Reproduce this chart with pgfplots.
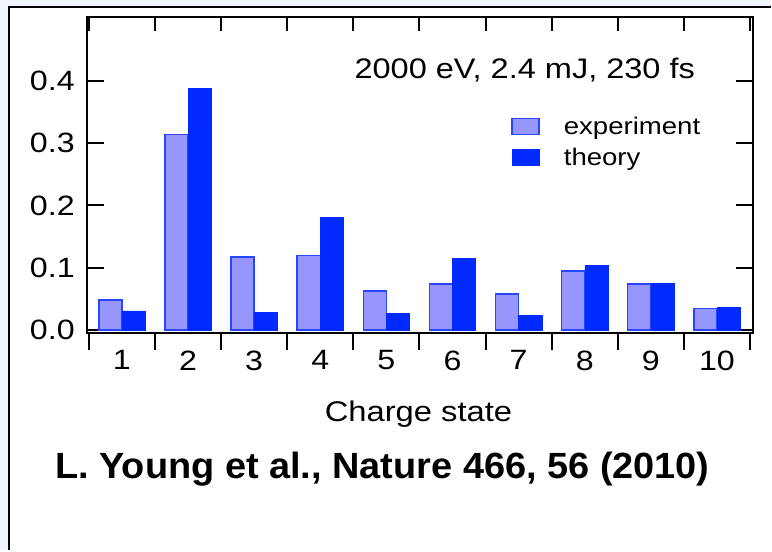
\documentclass[border=0pt]{standalone}
\usepackage{fontspec}
\setmainfont{Liberation Sans}[FakeStretch=1.15]
\newfontfamily\citefont{Liberation Sans}[FakeStretch=1.04]
\usepackage{pgfplots}
\pgfplotsset{compat=1.18}
\definecolor{theory}{RGB}{0,42,255}
\definecolor{expfill}{RGB}{150,150,252}
\definecolor{expdraw}{RGB}{40,70,255}
\definecolor{bgblue}{RGB}{240,244,252}
\begin{document}
\begin{tikzpicture}[x=1pt,y=1pt]
\fill[bgblue] (0,0) rectangle (772,551);
\fill[white] (9,0) rectangle (772,544);
\draw[line width=2pt] (9,0) -- (9,544) -- (772,544);
% main axis
\begin{axis}[
  at={(87pt,218pt)}, anchor=south west, scale only axis,
  width=667pt, height=316pt,
  xmin=0.47, xmax=10.545, ymin=-0.004, ymax=0.5024,
  axis line style={line width=2pt},
  xtick={1,...,10}, xticklabels={1,2,3,4,5,6,7,8,9,10},
  minor xtick={0.5,1.5,...,10.5},
  xtick pos=left, xtick align=outside,
  ytick={0,0.1,0.2,0.3,0.4}, yticklabels={0.0,0.1,0.2,0.3,0.4},
  ytick pos=both, yticklabel pos=left, ytick align=inside,
  major tick length=17pt, minor tick length=17pt,
  tick style={line width=2pt, black},
  major x tick style={draw=none},
  xticklabel style={inner sep=0pt, anchor=north, yshift=-1pt, font=\fontsize{28}{30}\selectfont},
  yticklabel style={inner sep=0pt, anchor=east, xshift=-12pt, font=\fontsize{28}{30}\selectfont},
  ybar, bar width=0.35,
  legend image code/.code={\draw[#1] (0pt,-8pt) rectangle (27pt,8pt);},
  legend style={draw=none, fill=none, at={(0.637,0.683)}, anchor=north west,
    inner sep=0pt, font=\fontsize{24}{27}\selectfont, row sep=12pt, column sep=24pt,
    nodes={inner sep=0pt}},
  legend cell align=left,
]
\addplot[fill=expfill, draw=expdraw, line width=1.5pt, bar shift=-0.175] coordinates {
 (1,0.048) (2,0.314) (3,0.117) (4,0.120) (5,0.063) (6,0.074) (7,0.058) (8,0.095) (9,0.074) (10,0.035)};
\addplot[fill=theory, draw=theory, line width=0.5pt, bar shift=0.175] coordinates {
 (1,0.031) (2,0.388) (3,0.028) (4,0.181) (5,0.027) (6,0.115) (7,0.023) (8,0.104) (9,0.075) (10,0.036)};
\legend{experiment, theory}
\end{axis}
% top ticks (inward)
\begin{axis}[
  at={(87pt,218pt)}, anchor=south west, scale only axis,
  width=667pt, height=316pt,
  xmin=0.47, xmax=10.545, ymin=-0.004, ymax=0.5024,
  axis line style={line width=2pt},
  hide y axis,
  xtick={0.5,1.5,...,10.5}, xticklabels={},
  xtick pos=right, xtick align=inside,
  major tick length=14pt,
  tick style={line width=2pt, black},
]
\end{axis}
\node[anchor=base east, inner sep=0pt, font=\fontsize{28.3}{30}\selectfont] at (696,472.7) {2000 eV, 2.4 mJ, 230 fs};
\node[anchor=base, inner sep=0pt, font=\fontsize{28.5}{30}\selectfont] at (419,129.3) {Charge state};
\node[anchor=base west, inner sep=0pt, font=\citefont\bfseries\fontsize{36.5}{40}\selectfont] at (55,72) {L. Young et al., Nature 466, 56 (2010)};
\end{tikzpicture}
\end{document}
